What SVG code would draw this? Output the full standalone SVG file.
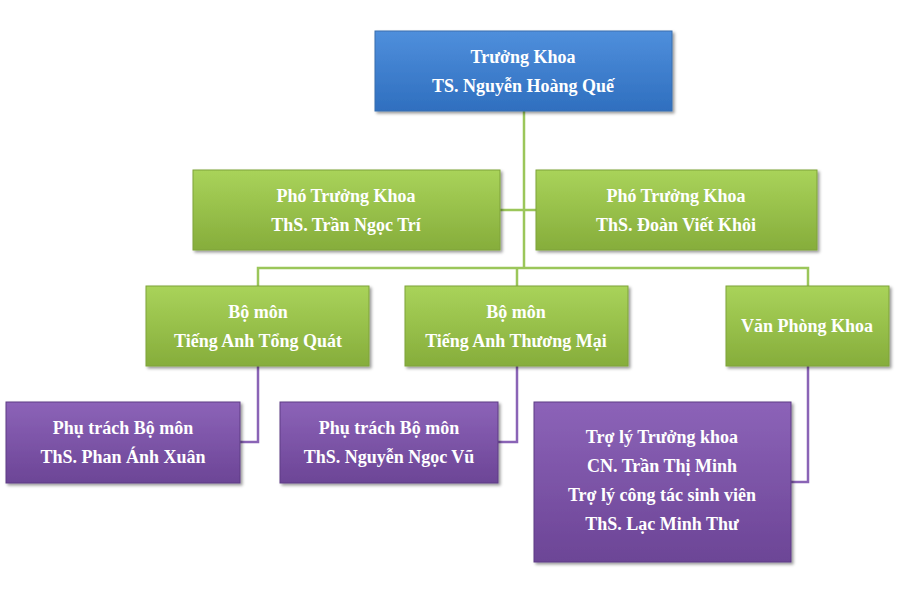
<svg xmlns="http://www.w3.org/2000/svg" width="901" height="616" viewBox="0 0 901 616">
<defs>
<linearGradient id="gb" x1="0" y1="0" x2="0" y2="1"><stop offset="0" stop-color="#4f8fdc"/><stop offset="1" stop-color="#2f6fbf"/></linearGradient>
<linearGradient id="gg" x1="0" y1="0" x2="0" y2="1"><stop offset="0" stop-color="#a9d35a"/><stop offset="1" stop-color="#86ad3b"/></linearGradient>
<linearGradient id="gp" x1="0" y1="0" x2="0" y2="1"><stop offset="0" stop-color="#8c63b8"/><stop offset="1" stop-color="#6c4596"/></linearGradient>
<filter id="sh" x="-5%" y="-10%" width="115%" height="130%"><feDropShadow dx="2" dy="2" stdDeviation="1.5" flood-opacity="0.4"/></filter>
</defs>
<style>
text{font-family:"Liberation Serif","Times New Roman",serif;font-weight:bold;font-size:18px;fill:#fff;text-anchor:middle}
.b{fill:url(#gb);stroke:#3a6fae;stroke-width:1;filter:url(#sh)}
.g{fill:url(#gg);stroke:#7fa33a;stroke-width:1;filter:url(#sh)}
.p{fill:url(#gp);stroke:#5e3d85;stroke-width:1;filter:url(#sh)}
.lg{stroke:#9bc65a;stroke-width:2.5;fill:none}
.lp{stroke:#8a64b6;stroke-width:2.5;fill:none}
</style>
<rect width="901" height="616" fill="#fff"/>
<g id="connectors">
<path class="lg" d="M524 111V268M500 210H536M258 286V268H808V286M517 268V286"/>
<path class="lp" d="M258 366V442H240M517 366V442H498M808 366V482H791"/>
</g>
<g id="n0"><rect class="b" x="375" y="31" width="297" height="80"/><text x="523" y="63">Trưởng Khoa</text><text x="523" y="92">TS. Nguyễn Hoàng Quế</text></g>
<g id="n1"><rect class="g" x="193" y="170" width="307" height="80"/><text x="346" y="202">Phó Trưởng Khoa</text><text x="346" y="231">ThS. Trần Ngọc Trí</text></g>
<g id="n2"><rect class="g" x="536" y="170" width="281" height="80"/><text x="676" y="202">Phó Trưởng Khoa</text><text x="676" y="231">ThS. Đoàn Viết Khôi</text></g>
<g id="n3"><rect class="g" x="146" y="286" width="223" height="80"/><text x="258" y="318">Bộ môn</text><text x="258" y="347">Tiếng Anh Tổng Quát</text></g>
<g id="n4"><rect class="g" x="405" y="286" width="223" height="80"/><text x="516" y="318">Bộ môn</text><text x="516" y="347">Tiếng Anh Thương Mại</text></g>
<g id="n5"><rect class="g" x="726" y="286" width="163" height="80"/><text x="807" y="332">Văn Phòng Khoa</text></g>
<g id="n6"><rect class="p" x="6" y="402" width="234" height="81"/><text x="123" y="434">Phụ trách Bộ môn</text><text x="123" y="463">ThS. Phan Ánh Xuân</text></g>
<g id="n7"><rect class="p" x="280" y="402" width="218" height="81"/><text x="389" y="434">Phụ trách Bộ môn</text><text x="389" y="463">ThS. Nguyễn Ngọc Vũ</text></g>
<g id="n8"><rect class="p" x="534" y="402" width="257" height="160"/><text x="662" y="443">Trợ lý Trưởng khoa</text><text x="662" y="472">CN. Trần Thị Minh</text><text x="662" y="501">Trợ lý công tác sinh viên</text><text x="662" y="530">ThS. Lạc Minh Thư</text></g>
</svg>
